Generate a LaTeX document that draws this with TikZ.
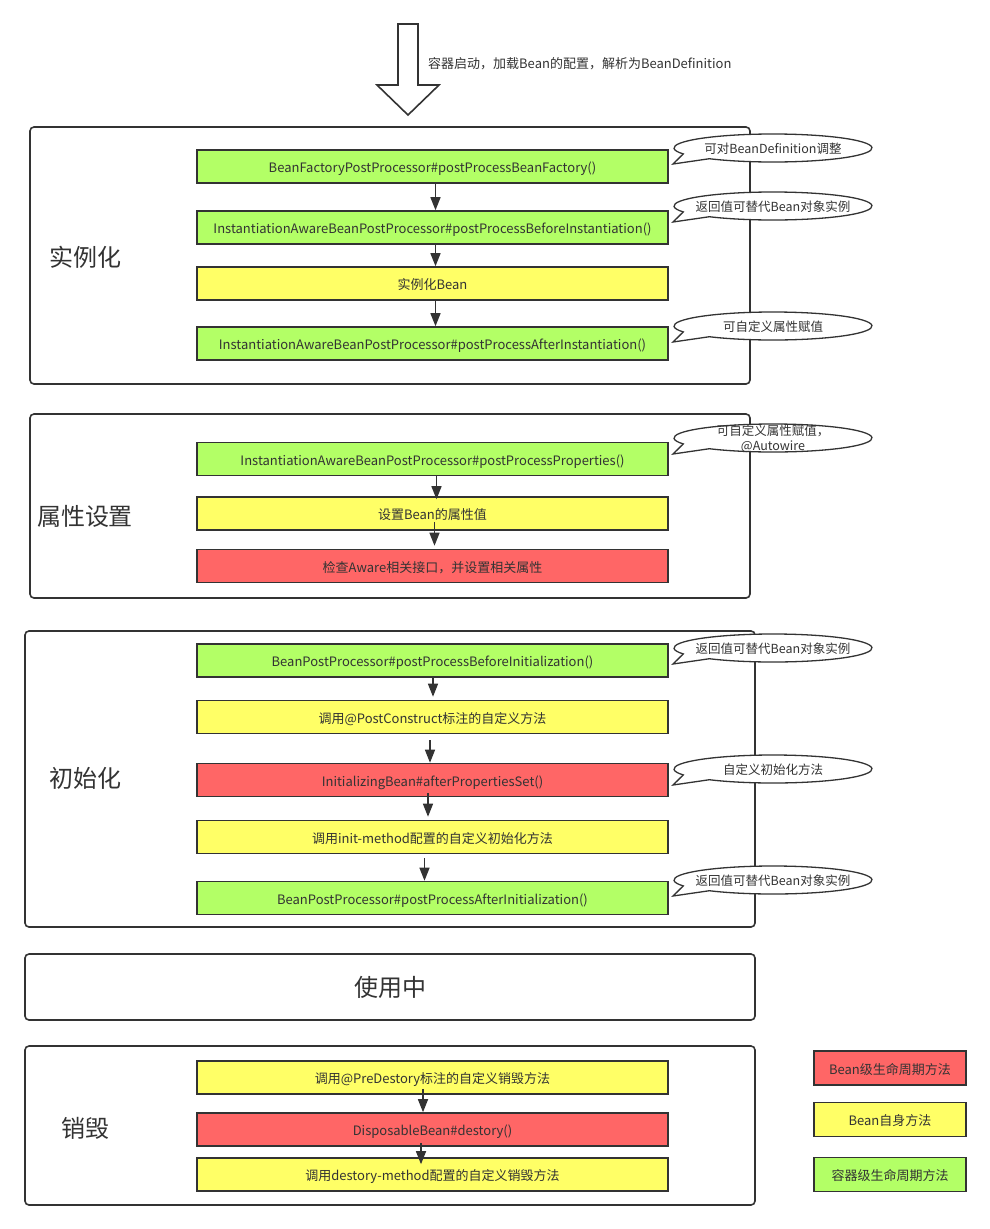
\documentclass[tikz,border=0pt]{standalone}
\usepackage{fontspec}
\setmainfont{Noto Sans CJK SC}
\usetikzlibrary{calc,arrows.meta}
\definecolor{ink}{HTML}{333333}
\definecolor{cgreen}{HTML}{B3FF66}
\definecolor{cyellow}{HTML}{FFFF66}
\definecolor{cred}{HTML}{FF6666}
\tikzset{
  x=1pt, y=1pt,
  lowtext/.style={text height=13pt, text depth=1pt},
  stepbox/.style={draw=ink, line width=1.6pt, minimum width=471, minimum height=33,
    inner sep=0pt, text=ink, font=\fontsize{13}{15}\selectfont, lowtext},
  gbox/.style={stepbox, fill=cgreen},
  ybox/.style={stepbox, fill=cyellow},
  rbox/.style={stepbox, fill=cred},
  phase/.style={draw=ink, line width=1.6pt, rounded corners=4pt, inner sep=0pt, fill=white},
  phaselabel/.style={text=ink, font=\fontsize{24}{28}\selectfont, inner sep=0pt},
  flow/.style={draw=ink, line width=1.5pt, -{Triangle[length=13pt,width=10pt]}},
  callline/.style={draw=ink, line width=1.3pt, fill=white},
  calltext/.style={text=ink, font=\fontsize{12.5}{15}\selectfont, inner sep=0pt, align=center},
  onetext/.style={text height=12.5pt, text depth=1pt},
  legendbox/.style={draw=ink, line width=1.6pt, minimum width=152, minimum height=34,
    inner sep=0pt, text=ink, font=\fontsize{13}{15}\selectfont, lowtext},
}
% speech-bubble note: ellipse with a short tail to the lower left
\newcommand\notebubble[5][onetext]{%
  \draw[callline] ($(#3,#4)+(230:99 and 14)$) -- ($(#3,#4)+(-100,-16)$)
    -- ($(#3,#4)+(205:99 and 14)$)
    arc[start angle=205, end angle=-130, x radius=99, y radius=14] -- cycle;
  \node[calltext, #1] (#2) at (#3,#4) {#5};}
\begin{document}
\begin{tikzpicture}
\useasboundingbox (0,0) rectangle (990,-1229);
\fill[white] (0,0) rectangle (990,-1229);

% container start arrow
\draw[ink, line width=1.6pt, fill=white, line join=miter]
  (398,-24) -- (418,-24) -- (418,-85) -- (439,-85) -- (408,-115)
  -- (377,-85) -- (398,-85) -- cycle;
\node[anchor=west, text=ink, font=\fontsize{13}{15}\selectfont, inner sep=0pt, lowtext]
  (start) at (428,-62) {容器启动，加载Bean的配置，解析为BeanDefinition};

% phase frames
\node[phase, minimum width=720, minimum height=257] (inst) at (390,-255.5) {};
\node[phase, minimum width=720, minimum height=184] (prop) at (390,-506) {};
\node[phase, minimum width=730, minimum height=296] (init) at (390,-779) {};
\node[phase, minimum width=730, minimum height=66, text=ink, font=\fontsize{24}{28}\selectfont] (use) at (390,-987) {使用中};
\node[phase, minimum width=730, minimum height=159] (dest) at (390,-1125.5) {};

\node[phaselabel] (instlbl) at (85,-257) {实例化};
\node[phaselabel] (proplbl) at (85,-516) {属性设置};
\node[phaselabel] (initlbl) at (85,-778) {初始化};
\node[phaselabel] (destlbl) at (85,-1128) {销毁};

% instantiation
\node[gbox] (b1) at (432.5,-166.5) {BeanFactoryPostProcessor\#postProcessBeanFactory()};
\node[gbox] (b2) at (432.5,-227.5) {InstantiationAwareBeanPostProcessor\#postProcessBeforeInstantiation()};
\node[ybox] (b3) at (432.5,-283.5) {实例化Bean};
\node[gbox] (b4) at (432.5,-343.5) {InstantiationAwareBeanPostProcessor\#postProcessAfterInstantiation()};
\draw[flow] ([xshift=3]b1.south) -- ([xshift=3]b2.north);
\draw[flow] ([xshift=3]b2.south) -- ([xshift=3]b3.north);
\draw[flow] ([xshift=3]b3.south) -- ([xshift=3]b4.north);

% property population
\node[gbox] (b5) at (432.5,-459) {InstantiationAwareBeanPostProcessor\#postProcessProperties()};
\node[ybox] (b6) at (432.5,-513.5) {设置Bean的属性值};
\node[rbox] (b7) at (432.5,-566) {检查Aware相关接口，并设置相关属性};
\draw[flow] ([xshift=4]b5.south) -- ([xshift=4,yshift=-3]b6.north);
\draw[flow] ([xshift=2,yshift=9]b6.south) -- ([xshift=2,yshift=3]b7.north);

% initialization
\node[gbox] (b8) at (432.5,-660.5) {BeanPostProcessor\#postProcessBeforeInitialization()};
\node[ybox] (b9) at (432.5,-717) {调用@PostConstruct标注的自定义方法};
\node[rbox] (b10) at (432.5,-780) {InitializingBean\#afterPropertiesSet()};
\node[ybox] (b11) at (432.5,-837) {调用init-method配置的自定义初始化方法};
\node[gbox] (b12) at (432.5,-898) {BeanPostProcessor\#postProcessAfterInitialization()};
\draw[flow] ([xshift=0.5]b8.south) -- ([xshift=0.5,yshift=3]b9.north);
\draw[flow] ([xshift=-2.5,yshift=-6]b9.south) -- ([xshift=-2.5]b10.north);
\draw[flow] ([xshift=-4.5,yshift=4]b10.south) -- ([xshift=-4.5,yshift=3]b11.north);
\draw[flow] ([xshift=-8,yshift=-4]b11.south) -- ([xshift=-8]b12.north);

% destruction
\node[ybox] (b13) at (432.5,-1077.5) {调用@PreDestory标注的自定义销毁方法};
\node[rbox] (b14) at (432.5,-1129.5) {DisposableBean\#destory()};
\node[ybox] (b15) at (432.5,-1174.5) {调用destory-method配置的自定义销毁方法};
\draw[flow] ([xshift=-9.5,yshift=6]b13.south) -- ([xshift=-9.5]b14.north);
\draw[flow] ([xshift=-11.5,yshift=4]b14.south) -- ([xshift=-11.5,yshift=-7]b15.north);

% notes
\notebubble{n1}{773}{-148}{可对BeanDefinition调整}
\notebubble{n2}{773}{-206}{返回值可替代Bean对象实例}
\notebubble{n3}{773}{-326}{可自定义属性赋值}
\notebubble[yshift=-1pt]{n4}{773}{-438}{可自定义属性赋值，\\@Autowire}
\notebubble{n5}{773}{-648}{返回值可替代Bean对象实例}
\notebubble{n6}{773}{-769}{自定义初始化方法}
\notebubble{n7}{773}{-880}{返回值可替代Bean对象实例}

% legend
\node[legendbox, fill=cred] (lg1) at (890,-1068) {Bean级生命周期方法};
\node[legendbox, fill=cyellow] (lg2) at (890,-1119.5) {Bean自身方法};
\node[legendbox, fill=cgreen] (lg3) at (890,-1174.5) {容器级生命周期方法};
\end{tikzpicture}
\end{document}
